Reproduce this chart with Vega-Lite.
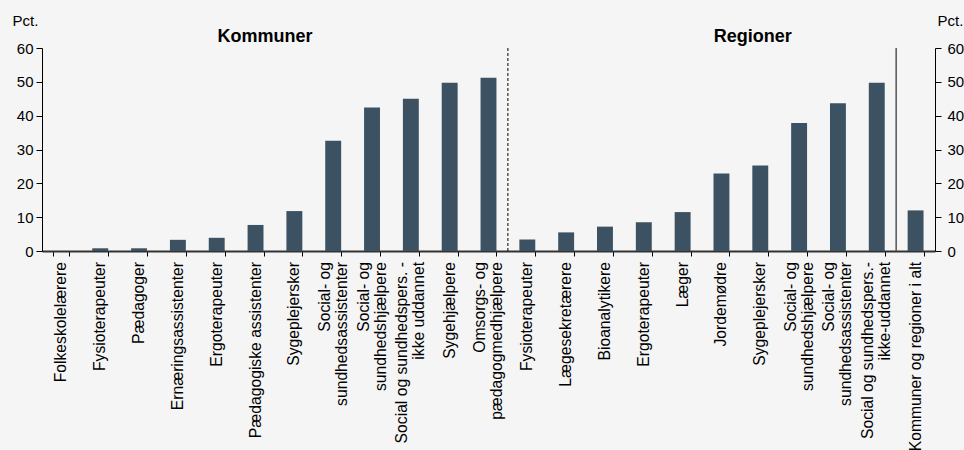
{
  "$schema": "https://vega.github.io/schema/vega-lite/v6.json",
  "width": 893,
  "height": 203,
  "autosize": {"type": "none"},
  "padding": {"left": 42, "top": 48, "right": 29, "bottom": 199},
  "background": "#f5f5f5",
  "config": {
    "view": {"stroke": null},
    "font": "Liberation Sans",
    "axis": {"labelFont": "Liberation Sans", "titleFont": "Liberation Sans", "labelColor": "#000000", "titleColor": "#000000"}
  },
  "datasets": {
    "bars": [
      {"id": "k01", "label": "Folkeskolelærere", "group": "Kommuner", "pct": 0},
      {"id": "k02", "label": "Fysioterapeuter", "group": "Kommuner", "pct": 0.8},
      {"id": "k03", "label": "Pædagoger", "group": "Kommuner", "pct": 0.8},
      {"id": "k04", "label": "Ernæringsassistenter", "group": "Kommuner", "pct": 3.3},
      {"id": "k05", "label": "Ergoterapeuter", "group": "Kommuner", "pct": 3.9},
      {"id": "k06", "label": "Pædagogiske assistenter", "group": "Kommuner", "pct": 7.7},
      {"id": "k07", "label": "Sygeplejersker", "group": "Kommuner", "pct": 11.8},
      {"id": "k08", "label": ["Social- og", "sundhedsassistenter"], "group": "Kommuner", "pct": 32.6},
      {"id": "k09", "label": ["Social- og", "sundhedshjælpere"], "group": "Kommuner", "pct": 42.4},
      {"id": "k10", "label": ["Social og sundhedspers. -", "ikke uddannet"], "group": "Kommuner", "pct": 45.0},
      {"id": "k11", "label": "Sygehjælpere", "group": "Kommuner", "pct": 49.7},
      {"id": "k12", "label": ["Omsorgs- og", "pædagogmedhjælpere"], "group": "Kommuner", "pct": 51.2},
      {"id": "r01", "label": "Fysioterapeuter", "group": "Regioner", "pct": 3.4},
      {"id": "r02", "label": "Lægesekretærere", "group": "Regioner", "pct": 5.5},
      {"id": "r03", "label": "Bioanalytikere", "group": "Regioner", "pct": 7.2},
      {"id": "r04", "label": "Ergoterapeuter", "group": "Regioner", "pct": 8.5},
      {"id": "r05", "label": "Læger", "group": "Regioner", "pct": 11.5},
      {"id": "r06", "label": "Jordemødre", "group": "Regioner", "pct": 22.9},
      {"id": "r07", "label": "Sygeplejersker", "group": "Regioner", "pct": 25.3},
      {"id": "r08", "label": ["Social- og", "sundhedshjælpere"], "group": "Regioner", "pct": 37.8},
      {"id": "r09", "label": ["Social- og", "sundhedsassistenter"], "group": "Regioner", "pct": 43.7},
      {"id": "r10", "label": ["Social og sundhedspers.-", "ikke-uddannet"], "group": "Regioner", "pct": 49.7},
      {"id": "t01", "label": "Kommuner og regioner i alt", "group": "I alt", "pct": 12.0}
    ],
    "headings": [
      {"heading": "Kommuner", "anchor": "k06"},
      {"heading": "Regioner", "anchor": "r07"}
    ],
    "dividers": [
      {"at": "r01", "kind": "dashed"},
      {"at": "t01", "kind": "solid"}
    ]
  },
  "layer": [
    {
      "data": {"name": "bars"},
      "mark": {"type": "bar", "color": "#3c5263"},
      "encoding": {
        "x": {
          "field": "id", "type": "nominal", "sort": null,
          "scale": {"paddingInner": 0.59, "paddingOuter": 0.295},
          "axis": {
            "title": null,
            "labels": false,
            "tickBand": "extent",
            "tickSize": 5,
            "tickColor": "#000000",
            "domainColor": "#333333",
            "domainWidth": 2
          }
        },
        "y": {
          "field": "pct", "type": "quantitative",
          "scale": {"domain": [0, 60]},
          "axis": {
            "orient": "left",
            "values": [0, 10, 20, 30, 40, 50, 60],
            "grid": false,
            "title": "Pct.",
            "titleAngle": 0,
            "titleAlign": "left",
            "titleBaseline": "alphabetic",
            "titleX": -30,
            "titleY": -23,
            "titleFontSize": 15,
            "titleFontWeight": "normal",
            "labelFontSize": 15,
            "labelPadding": 3,
            "tickSize": 6,
            "tickColor": "#000000",
            "domainColor": "#000000"
          }
        }
      }
    },
    {
      "data": {"name": "bars"},
      "mark": {"type": "bar", "opacity": 0},
      "encoding": {
        "x": {"field": "id", "type": "nominal", "sort": null},
        "y": {
          "field": "pct", "type": "quantitative",
          "scale": {"domain": [0, 60]},
          "axis": {
            "orient": "right",
            "values": [0, 10, 20, 30, 40, 50, 60],
            "grid": false,
            "title": "Pct.",
            "titleAngle": 0,
            "titleAlign": "left",
            "titleBaseline": "alphabetic",
            "titleX": 2,
            "titleY": -23,
            "titleFontSize": 15,
            "titleFontWeight": "normal",
            "labelFontSize": 15,
            "labelPadding": 6,
            "tickSize": 6,
            "tickColor": "#000000",
            "domainColor": "#000000"
          }
        }
      }
    },
    {
      "data": {"name": "bars"},
      "transform": [{"filter": "!isArray(datum.label)"}],
      "mark": {"type": "text", "angle": 270, "align": "right", "baseline": "middle", "fontSize": 15.7, "dx": -11, "dy": 0, "color": "#000000"},
      "encoding": {
        "x": {"field": "id", "type": "nominal", "sort": null, "bandPosition": 0.5},
        "y": {"datum": 0, "type": "quantitative", "axis": null},
        "text": {"field": "label"}
      }
    },
    {
      "data": {"name": "bars"},
      "transform": [{"filter": "isArray(datum.label)"}],
      "mark": {"type": "text", "angle": 270, "align": "right", "baseline": "middle", "fontSize": 15.7, "lineHeight": 17, "dx": -11, "dy": -8.5, "color": "#000000"},
      "encoding": {
        "x": {"field": "id", "type": "nominal", "sort": null, "bandPosition": 0.5},
        "y": {"datum": 0, "type": "quantitative", "axis": null},
        "text": {"field": "label"}
      }
    },
    {
      "data": {"name": "dividers"},
      "transform": [{"filter": "datum.kind == 'dashed'"}],
      "mark": {"type": "rule", "color": "#000000", "strokeDash": [3, 2], "strokeWidth": 1},
      "encoding": {"x": {"field": "at", "type": "nominal", "bandPosition": -0.72}}
    },
    {
      "data": {"name": "dividers"},
      "transform": [{"filter": "datum.kind == 'solid'"}],
      "mark": {"type": "rule", "color": "#555555", "strokeWidth": 1.5},
      "encoding": {"x": {"field": "at", "type": "nominal", "bandPosition": -0.72}}
    },
    {
      "data": {"name": "headings"},
      "transform": [{"filter": "datum.heading == 'Kommuner'"}],
      "mark": {"type": "text", "fontWeight": "bold", "fontSize": 18, "baseline": "alphabetic", "align": "center", "dy": -6, "dx": 9.5},
      "encoding": {
        "x": {"field": "anchor", "type": "nominal", "bandPosition": 0.5},
        "y": {"datum": 60, "type": "quantitative", "axis": null},
        "text": {"field": "heading"}
      }
    },
    {
      "data": {"name": "headings"},
      "transform": [{"filter": "datum.heading == 'Regioner'"}],
      "mark": {"type": "text", "fontWeight": "bold", "fontSize": 18, "baseline": "alphabetic", "align": "center", "dy": -6, "dx": -7.5},
      "encoding": {
        "x": {"field": "anchor", "type": "nominal", "bandPosition": 0.5},
        "y": {"datum": 60, "type": "quantitative", "axis": null},
        "text": {"field": "heading"}
      }
    }
  ],
  "resolve": {"axis": {"y": "independent"}}
}
